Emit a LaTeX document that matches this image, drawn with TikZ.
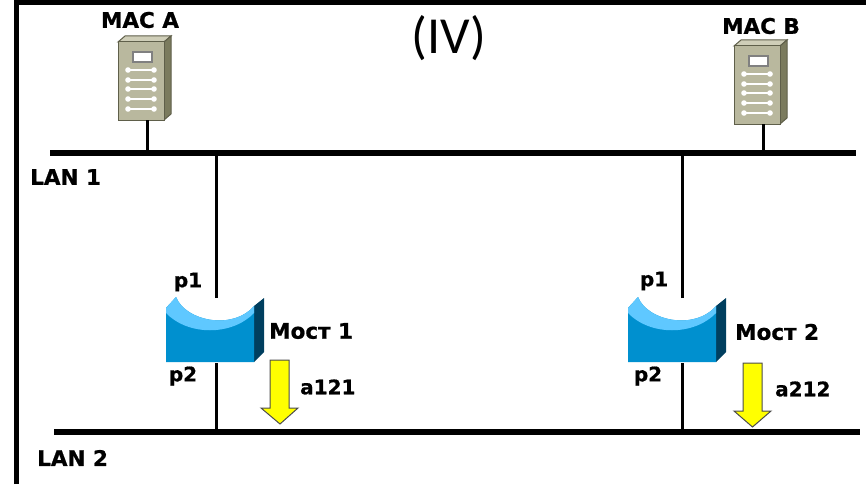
\documentclass[tikz,border=0pt]{standalone}
\usepackage{fontspec}
\setmainfont[BoldFeatures={FakeBold=0.8}]{DejaVu Sans}
\newfontfamily\titlefont{Carlito}
\usepackage{xcolor}
\definecolor{srvfront}{HTML}{B9B89E}
\definecolor{srvtop}{HTML}{CFCEB8}
\definecolor{srvside}{HTML}{7B7B5E}
\definecolor{srvedge}{HTML}{5F5F4A}
\definecolor{brfront}{HTML}{0090CF}
\definecolor{brlight}{HTML}{5FC8FF}
\definecolor{brside}{HTML}{003F5F}
\definecolor{arrowyellow}{HTML}{FFFF00}
\tikzset{
  lab/.style={font=\bfseries\fontsize{21.5}{22}\selectfont,inner sep=0pt},
  smalllab/.style={font=\bfseries\fontsize{20}{20}\selectfont,inner sep=0pt},
  srv/.style={draw=srvedge,fill=srvfront,line width=1pt,minimum width=46pt,minimum height=78pt,inner sep=0pt},
  bus/.style={line width=5.5pt},
  tap/.style={line width=3pt},
  addr/.style={fill=arrowyellow,draw=black!70,line width=1pt},
}
% front corner of a server at (#2,#3), stem foot 6 right of centre
\newcommand{\server}[3]{
  \begin{scope}[shift={(#2,#3)}]
  \draw[srvedge,fill=srvtop,line width=1pt] (0,0) -- (7,-6) -- (53,-6) -- (46,0) -- cycle;
  \draw[srvedge,fill=srvside,line width=1pt] (46,0) -- (53,-6) -- (53,72) -- (46,78) -- cycle;
  \node[srv] (#1) at (23,39) {};
  \coordinate (#1foot) at (29,78);
  \draw[gray,fill=white,line width=1.5pt] (15,10) rectangle (34,20);
  \foreach \y in {28,38,47,57,67} {
    \draw[white,line width=1.4pt] (10,\y) -- (36,\y);
    \fill[white] (10,\y) circle (2.8) (36,\y) circle (2.8);
  }
  \end{scope}
}
% bridge, left end of front at (#2,#3), tap line #4 right of it
\newcommand{\bridge}[4]{
  \begin{scope}[shift={(#2,#3)}]
  \fill[brside] (88,-2) -- (98,-10) -- (98,44) -- (88,54) -- cycle;
  \fill[brfront] (0,0) -- (10,-11) .. controls (20,14) and (68,22) .. (88,-2) -- (88,54) -- (0,54) -- cycle;
  \fill[brlight] (0,0) -- (10,-11) .. controls (20,14) and (68,22) .. (88,-2) -- (88,5)
     .. controls (66,28) and (22,28) .. (0,5) -- cycle;
  \coordinate (#1top) at (#4,-10);
  \coordinate (#1bot) at (#4,55);
  \end{scope}
}
\begin{document}
\begin{tikzpicture}[x=1pt,y=-1pt]
\useasboundingbox (0,0) rectangle (866,484);
\draw[line width=5.5pt] (16.5,484) -- (16.5,2.7) -- (866,2.7);

\server{srvA}{118}{42}
\server{srvB}{734}{46}
\bridge{brA}{166}{308}{50}
\bridge{brB}{628}{308}{54}

\path
coordinate (lanAw) at (50,153)
coordinate (lanAe) at (856,153)
coordinate (lanBw) at (54,432)
coordinate (lanBe) at (860,432)
node[lab,anchor=center] (macA) at (140,20) {MAC A}
node[lab,anchor=center] (macB) at (761,26) {MAC B}
node[lab,anchor=west] (lanA) at (30,177) {LAN 1}
node[lab,anchor=west] (lanB) at (37,458) {LAN 2}
node[inner sep=0pt,font=\titlefont\fontsize{52}{52}\selectfont] (title) at (449,38) {(IV)}
node[smalllab] (pA1) at (188,282) {p1}
node[smalllab] (pA2) at (183,376) {p2}
node[lab,anchor=west] (brAname) at (269,331) {Мост 1}
node[smalllab,anchor=west] (addrA) at (300,387) {a121}
node[smalllab] (pB1) at (654,281) {p1}
node[smalllab] (pB2) at (648,376) {p2}
node[lab,anchor=west] (brBname) at (735,332) {Мост 2}
node[smalllab,anchor=west] (addrB) at (775,389) {a212};

\path[bus] (lanAw) edge (lanAe)
           (lanBw) edge (lanBe);
\path[tap] (srvAfoot) edge (srvAfoot |- lanAw)
           (srvBfoot) edge (srvBfoot |- lanAw)
           (brAtop) edge (brAtop |- lanAw)
           (brAbot) edge (brAbot |- lanBw)
           (brBtop) edge (brBtop |- lanAw)
           (brBbot) edge (brBbot |- lanBw);

\draw[addr] (270,360) -- (289,360) -- (289,408) -- (298,408)
  -- (280,424) -- (261,408) -- (270,408) -- cycle;
\draw[addr] (743,363) -- (762,363) -- (762,411) -- (771,411)
  -- (752.5,427) -- (734,411) -- (743,411) -- cycle;
\end{tikzpicture}
\end{document}
